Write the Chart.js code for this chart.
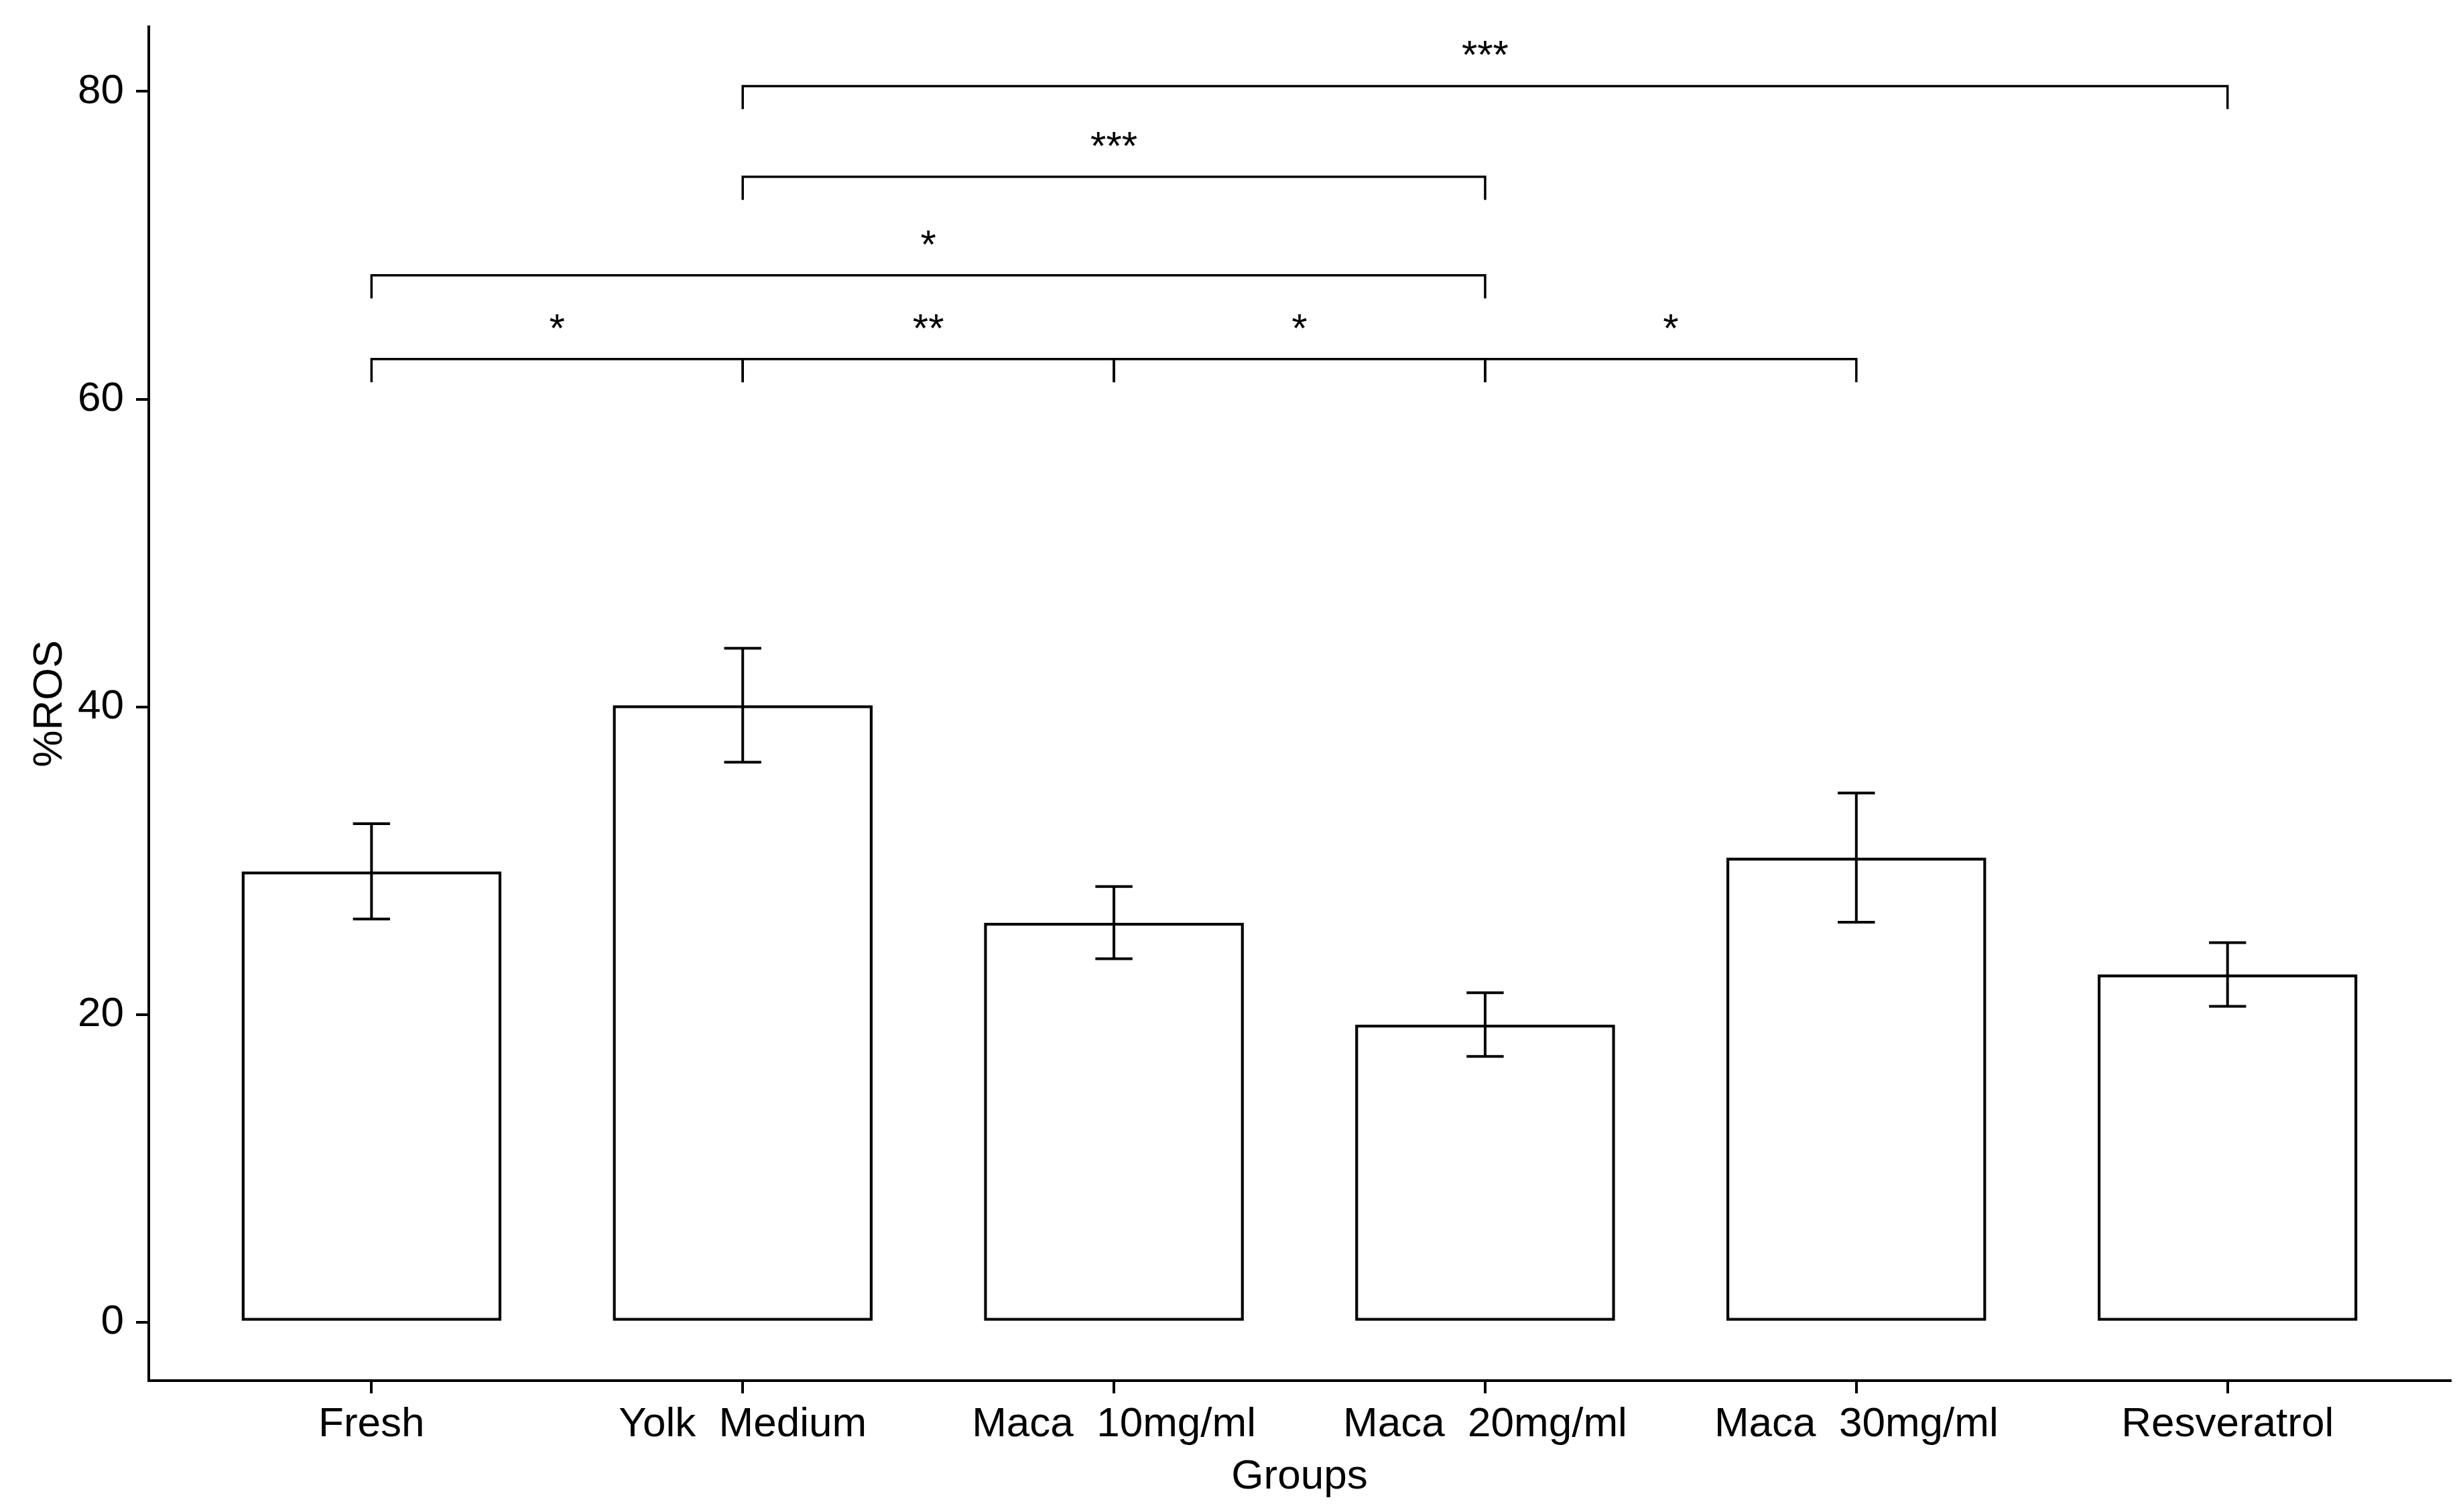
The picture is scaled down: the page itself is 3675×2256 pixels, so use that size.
<!DOCTYPE html>
<html><head><meta charset="utf-8">
<script src="https://cdn.jsdelivr.net/npm/chart.js@4.4.1/dist/chart.umd.min.js"></script>
<style>html,body{margin:0;padding:0;background:#fff}canvas{display:block}</style>
</head><body>
<canvas id="c" width="3675" height="2256"></canvas>
<script>
// ---- data ----
const categories = ["Fresh", "Yolk  Medium", "Maca  10mg/ml", "Maca  20mg/ml", "Maca  30mg/ml", "Resveratrol"];
const meanROS = [29.3, 40.1, 25.97, 19.34, 30.2, 22.6];
const seROS = [3.1, 3.7, 2.35, 2.07, 4.2, 2.07];
const yTicks = [0, 20, 40, 60, 80];
// significance brackets (group indices, bracket height in %ROS, label)
const sigFrom = [1, 1, 0, 0, 1, 2, 3];
const sigTo = [5, 3, 3, 1, 2, 3, 4];
const sigY = [80.35, 74.45, 68.05, 62.6, 62.6, 62.6, 62.6];
const sigLabel = ["***", "***", "*", "*", "**", "*", "*"];

const FONT = "'Liberation Sans', Arial, sans-serif";

const errorBars = {
  id: 'errorBars',
  afterDatasetsDraw(chart) {
    const {ctx, scales: {x, y}} = chart;
    ctx.save();
    ctx.strokeStyle = '#000';
    ctx.lineWidth = 4;
    meanROS.forEach((m, i) => {
      const px = x.getPixelForValue(i);
      const hw = x.getPixelForValue(i + 0.05) - px;
      const yt = y.getPixelForValue(m + seROS[i]);
      const yb = y.getPixelForValue(m - seROS[i]);
      ctx.beginPath();
      ctx.moveTo(px, yt); ctx.lineTo(px, yb);
      ctx.moveTo(px - hw, yt); ctx.lineTo(px + hw, yt);
      ctx.moveTo(px - hw, yb); ctx.lineTo(px + hw, yb);
      ctx.stroke();
    });
    ctx.restore();
  }
};

const brackets = {
  id: 'brackets',
  afterDatasetsDraw(chart) {
    const {ctx, scales: {x, y}} = chart;
    const tip = 1.5;
    ctx.save();
    ctx.strokeStyle = '#000';
    ctx.fillStyle = '#000';
    ctx.lineWidth = 3.5;
    ctx.font = '60px ' + FONT;
    ctx.textAlign = 'center';
    ctx.textBaseline = 'alphabetic';
    sigFrom.forEach((f, k) => {
      const x1 = x.getPixelForValue(f);
      const x2 = x.getPixelForValue(sigTo[k]);
      const yl = y.getPixelForValue(sigY[k]);
      const yt = y.getPixelForValue(sigY[k] - tip);
      ctx.beginPath();
      ctx.moveTo(x1, yt); ctx.lineTo(x1, yl); ctx.lineTo(x2, yl); ctx.lineTo(x2, yt);
      ctx.stroke();
      ctx.fillText(sigLabel[k], (x1 + x2) / 2, yl - 26);
    });
    ctx.restore();
  }
};

new Chart(document.getElementById('c').getContext('2d'), {
  type: 'bar',
  data: {
    datasets: [{
      data: meanROS.map((v, i) => ({x: i, y: v})),
      backgroundColor: '#fff',
      borderColor: '#000',
      borderWidth: 4.5,
      borderSkipped: false,
      barPercentage: 0.7,
      categoryPercentage: 1
    }]
  },
  options: {
    responsive: false,
    animation: false,
    devicePixelRatio: 1,
    layout: {padding: {left: 0, right: 19, top: 40, bottom: 0}},
    plugins: {legend: {display: false}, tooltip: {enabled: false}},
    scales: {
      x: {
        type: 'linear', min: -0.6, max: 5.6, offset: false,
        afterBuildTicks: s => { s.ticks = categories.map((_, i) => ({value: i})); },
        afterFit: s => { s.height = 196; s.paddingLeft = 0; s.paddingRight = 0; s.paddingTop = 0; s.paddingBottom = 0; },
        ticks: {callback: v => categories[v], font: {family: FONT, size: 62}, color: '#000', padding: 10, maxRotation: 0, autoSkip: false},
        grid: {display: true, offset: false, drawOnChartArea: false, drawTicks: true, tickLength: 19, lineWidth: 4, color: '#000'},
        border: {display: true, color: '#000', width: 4},
        title: {display: true, text: 'Groups', font: {family: FONT, size: 62}, color: '#000', padding: {top: 0, bottom: 15}}
      },
      y: {
        type: 'linear', min: -3.8, max: 84.2,
        afterBuildTicks: s => { s.ticks = yTicks.map(v => ({value: v})); },
        afterFit: s => { s.width = 222; s.paddingTop = 0; s.paddingBottom = 0; s.paddingLeft = 0; s.paddingRight = 0; },
        ticks: {font: {family: FONT, size: 62}, color: '#000', padding: 18},
        grid: {display: true, drawOnChartArea: false, drawTicks: true, tickLength: 19, lineWidth: 4, color: '#000'},
        border: {display: true, color: '#000', width: 4},
        title: {display: true, text: '%ROS', font: {family: FONT, size: 62}, color: '#000', padding: {top: 38, bottom: 0}}
      }
    }
  },
  plugins: [errorBars, brackets]
});
</script>
</body></html>
